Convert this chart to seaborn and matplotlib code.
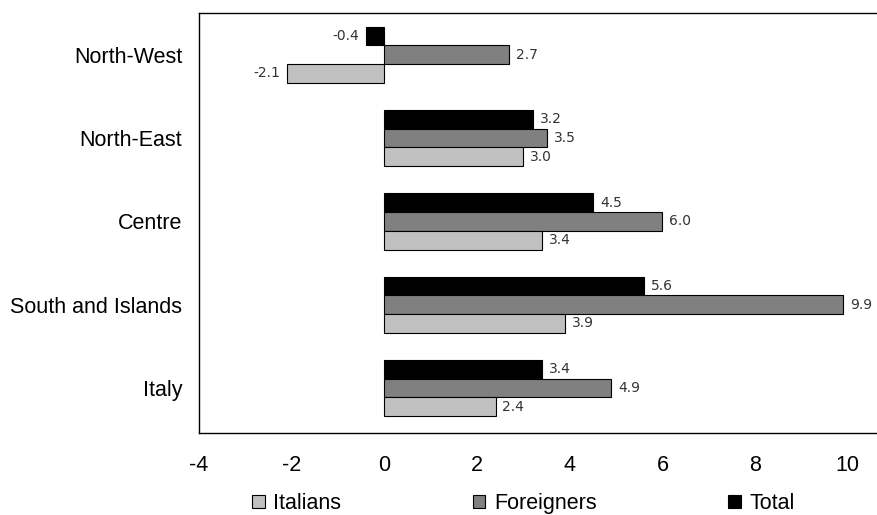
import matplotlib
matplotlib.use("Agg")
import matplotlib.pyplot as plt
from matplotlib.patches import Patch
import pandas as pd
import seaborn as sns

# Percentage change by area and citizenship
regions = ["North-West", "North-East", "Centre", "South and Islands", "Italy"]
italians = [-2.1, 3.0, 3.4, 3.9, 2.4]
foreigners = [2.7, 3.5, 6.0, 9.9, 4.9]
total = [-0.4, 3.2, 4.5, 5.6, 3.4]
x_ticks = [-4, -2, 0, 2, 4, 6, 8, 10]

series_names = ["Total", "Foreigners", "Italians"]
series_values = [total, foreigners, italians]
colors = {"Italians": "#c0c0c0", "Foreigners": "#808080", "Total": "#000000"}

df = pd.DataFrame(
    [(r, name, v) for name, vals in zip(series_names, series_values)
     for r, v in zip(regions, vals)],
    columns=["region", "series", "value"],
)

sns.set_style("white")
plt.rcParams["font.family"] = ["Liberation Sans", "DejaVu Sans"]
plt.rcParams["text.color"] = "black"
plt.rcParams["xtick.color"] = "black"
plt.rcParams["ytick.color"] = "black"

fig = plt.figure(figsize=(8.78, 5.15), dpi=100)
ax = fig.add_axes([0.2265, 0.159, 0.7735, 0.8158])

sns.barplot(
    data=df, y="region", x="value", hue="series", order=regions,
    hue_order=series_names, palette=colors, orient="h", width=0.675,
    edgecolor="black", linewidth=0.8, saturation=1, legend=False, ax=ax,
)

for cont in ax.containers:
    ax.bar_label(cont, fmt="%.1f", padding=5, fontsize=10,
                 color="#333333", family="DejaVu Sans")

ax.set_xlim(-4, 10.65)
ax.set_ylim(4.54, -0.5)
ax.set_xticks(x_ticks)
ax.set_xticklabels([str(t) for t in x_ticks])
ax.set_xlabel("")
ax.set_ylabel("")
ax.tick_params(axis="x", length=0, labelsize=15.5, pad=16, labelcolor="black")
ax.tick_params(axis="y", length=0, labelsize=15.5, pad=12, labelcolor="black")
for side in ["left", "top", "bottom"]:
    ax.spines[side].set_color("black")
    ax.spines[side].set_linewidth(1.0)
ax.spines["right"].set_visible(False)

handles = [Patch(facecolor=colors[n], edgecolor="black", linewidth=0.8, label=n)
           for n in ["Italians", "Foreigners", "Total"]]
fig.legend(handles=handles, loc="center", bbox_to_anchor=(0.596, 0.022),
           ncol=3, frameon=False, fontsize=15.5, handlelength=0.6,
           handleheight=0.6, handletextpad=0.4, columnspacing=6.1,
           borderaxespad=0, borderpad=0, labelcolor="black")

fig.savefig("out.png", dpi=100)
